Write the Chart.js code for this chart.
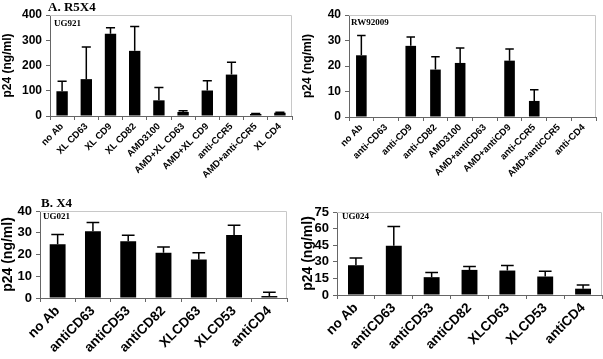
<!DOCTYPE html>
<html><head><meta charset="utf-8">
<script src="https://cdn.jsdelivr.net/npm/chart.js@4"></script>
<style>
html,body{margin:0;padding:0;background:#fff;}
#wrap{position:relative;width:603px;height:359px;overflow:hidden;background:#fff;}
.p{position:absolute;}
</style></head>
<body><div id="wrap">
<div class="p" style="left:0;top:0;width:300px;height:180px"><canvas id="c1"></canvas></div>
<div class="p" style="left:300px;top:0;width:303px;height:180px"><canvas id="c2"></canvas></div>
<div class="p" style="left:0;top:180px;width:300px;height:179px"><canvas id="c3"></canvas></div>
<div class="p" style="left:300px;top:180px;width:303px;height:179px"><canvas id="c4"></canvas></div>
</div>
<script>
// ---- data ----
const r5x4Labels = ["no Ab","XL CD63","XL CD9","XL CD82","AMD3100","AMD+XL CD63","AMD+XL CD9","anti-CCR5","AMD+anti-CCR5","XL CD4"];
const r5x4Values = [98,146,326,258,62,16,101,164,8,13];
const r5x4Errors = [40,127,24,96,51,5,39,49,2,2];
const r5x4Ticks = [0,100,200,300,400];

const rwLabels = ["no Ab","anti-CD63","anti-CD9","anti-CD82","AMD3100","AMD+antiCD63","AMD+antiCD9","anti-CCR5","AMD+antiCCR5","anti-CD4"];
const rwValues = [24.2,0.2,27.9,18.6,21.2,0.2,22.1,6.3,0.2,0.2];
const rwErrors = [7.8,0,3.5,5.0,5.9,0,4.6,4.4,0,0];
const rwTicks = [0,10,20,30,40];

const x4Labels = ["no Ab","antiCD63","antiCD53","antiCD82","XLCD63","XLCD53","antiCD4"];
const ug021Values = [24.7,30.7,26.1,20.8,17.7,29.0,0.9];
const ug021Errors = [4.5,4.0,2.8,2.6,3.1,4.4,1.7];
const ug021Ticks = [0,10,20,30,40];

const ug024Values = [26.9,44.5,16.1,22.7,22.1,16.7,5.7];
const ug024Errors = [6.6,17.3,4.2,3.0,4.5,4.8,3.3];
const ug024Ticks = [0,15,30,45,60,75];

// ---- drawing ----
const errPlugin = {
  id:'errbars',
  afterDatasetsDraw(chart, args, o){
    const ctx = chart.ctx, ys = chart.scales.y, meta = chart.getDatasetMeta(0);
    const a = chart.chartArea;
    ctx.save();
    ctx.strokeStyle = '#c8c8c8'; ctx.lineWidth = 1;
    ctx.beginPath();
    ctx.moveTo(a.left, a.top+0.5); ctx.lineTo(a.right-0.5, a.top+0.5); ctx.lineTo(a.right-0.5, a.bottom);
    ctx.stroke();
    ctx.strokeStyle = '#000'; ctx.lineWidth = 1.5;
    const errs = o.errors, vals = chart.data.datasets[0].data;
    meta.data.forEach((bar,i)=>{
      if(!errs[i]) return;
      const yTop = ys.getPixelForValue(vals[i]+errs[i]);
      const yb = ys.getPixelForValue(vals[i]);
      const cap = bar.width*0.4;
      ctx.beginPath();
      ctx.moveTo(bar.x, yb); ctx.lineTo(bar.x, yTop);
      ctx.moveTo(bar.x-cap, yTop); ctx.lineTo(bar.x+cap, yTop);
      ctx.stroke();
    });
    ctx.fillStyle = '#000';
    ctx.textBaseline = 'middle';
    (o.texts||[]).forEach(t=>{
      ctx.font = t.font;
      ctx.fillText(t.text, t.x, t.y);
    });
    ctx.restore();
  }
};

function makePanel(id, labels, values, errors, ticks, g){
  const max = ticks[ticks.length-1];
  const step = ticks[1]-ticks[0];
  new Chart(document.getElementById(id), {
    type:'bar',
    data:{labels:labels, datasets:[{data:values, backgroundColor:'#000', borderWidth:0,
      barPercentage:g.barPct, categoryPercentage:1}]},
    plugins:[errPlugin],
    options:{
      responsive:true, maintainAspectRatio:false, animation:false,
      layout:{padding:{top:g.top, right:g.right, left:0, bottom:0}},
      plugins:{legend:{display:false}, tooltip:{enabled:false},
        errbars:{errors:errors, texts:g.texts}},
      scales:{
        x:{
          grid:{display:true, offset:true, drawOnChartArea:false, tickLength:4, color:'#666'},
          border:{display:true, color:'#666'},
          ticks:{color:'#000', minRotation:45, maxRotation:45, autoSkip:false, padding:1,
            font:{family:'Liberation Sans, Arial', size:g.xFont, weight:g.xWeight}},
          afterFit(s){ s.height = g.xH; }
        },
        y:{
          min:ticks[0], max:max,
          grid:{display:true, drawOnChartArea:false, tickLength:4, color:'#666'},
          border:{display:true, color:'#666'},
          ticks:{color:'#000', padding:4, stepSize:step, autoSkip:false, count:ticks.length,
            font:{family:'Liberation Sans, Arial', size:g.yFont, weight:'bold'}},
          title:{display:true, text:'p24 (ng/ml)', color:'#000', padding:{top:0,bottom:0},
            font:{family:'Liberation Sans, Arial', size:g.titleFont, weight:'bold'}},
          afterFit(s){ s.width = g.yW; }
        }
      }
    }
  });
}

const serifB = 'bold 13px "Liberation Serif", "Times New Roman", serif';
const serifS = 'bold 9px "Liberation Serif", "Times New Roman", serif';

makePanel('c1', r5x4Labels, r5x4Values, r5x4Errors, r5x4Ticks,
  {top:15, right:8, yW:50, xH:64, barPct:0.47, xFont:9.5, xWeight:'bold', yFont:12, titleFont:12,
   texts:[{text:'A. R5X4', x:48, y:8, font:serifB},{text:'UG921', x:54, y:24, font:serifS}]});
makePanel('c2', rwLabels, rwValues, rwErrors, rwTicks,
  {top:15, right:7, yW:49, xH:63, barPct:0.43, xFont:9.5, xWeight:'bold', yFont:12, titleFont:12,
   texts:[{text:'RW92009', x:51, y:23, font:serifS}]});
makePanel('c3', x4Labels, ug021Values, ug021Errors, ug021Ticks,
  {top:31, right:13, yW:40, xH:61, barPct:0.45, xFont:13.5, xWeight:'bold', yFont:13, titleFont:14,
   texts:[{text:'B. X4', x:41, y:24, font:serifB},{text:'UG021', x:43, y:37, font:serifS}]});
makePanel('c4', x4Labels, ug024Values, ug024Errors, ug024Ticks,
  {top:32, right:1, yW:37, xH:64, barPct:0.42, xFont:13.5, xWeight:'bold', yFont:13, titleFont:14,
   texts:[{text:'UG024', x:42, y:37, font:serifS}]});
</script>
</body></html>
